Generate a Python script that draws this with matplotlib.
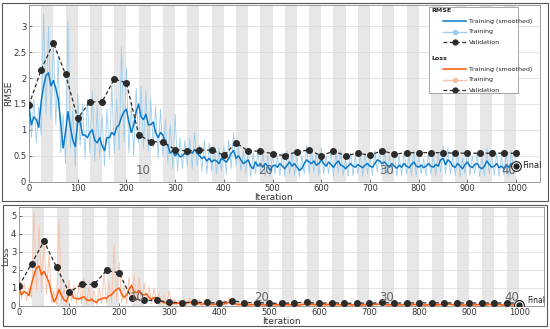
import numpy as np
import matplotlib
matplotlib.use("Agg")
import matplotlib.pyplot as plt
import matplotlib.patches as patches
import matplotlib.transforms as mtransforms

# iterations sampled every 5
iters = np.arange(0, 1001, 5)

rmse_smooth = [
    1.40, 1.10, 1.25, 1.20, 1.05, 1.55, 1.85, 2.05, 2.10, 1.85,
    1.95, 1.80, 1.60, 1.15, 0.65, 0.95, 1.35, 1.05, 0.80, 0.68,
    1.15, 1.15, 0.90, 0.90, 0.85, 0.95, 1.00, 0.80, 0.75, 0.85,
    0.70, 0.60, 0.85, 0.85, 0.95, 0.90, 1.05, 1.10, 1.25, 1.35,
    1.40, 1.15, 0.95, 1.10, 1.35, 1.50, 1.25, 1.20, 1.30, 1.10,
    1.10, 1.15, 0.95, 0.85, 0.95, 0.90, 0.75, 0.70, 0.55, 0.60,
    0.50, 0.55, 0.48, 0.50, 0.55, 0.52, 0.58, 0.55, 0.62, 0.55,
    0.50, 0.45, 0.48, 0.40, 0.45, 0.38, 0.42, 0.40, 0.35, 0.45,
    0.42, 0.38, 0.45, 0.55, 0.60, 0.45, 0.50, 0.42, 0.35, 0.38,
    0.42, 0.30, 0.25, 0.38, 0.30, 0.35, 0.28, 0.35, 0.30, 0.22,
    0.30, 0.32, 0.28, 0.35, 0.30, 0.25, 0.32, 0.38, 0.30, 0.35,
    0.28, 0.22, 0.25, 0.35, 0.42, 0.38, 0.35, 0.40, 0.32, 0.35,
    0.42, 0.35, 0.30, 0.38, 0.33, 0.28, 0.35, 0.40, 0.32, 0.30,
    0.25, 0.30, 0.35, 0.30, 0.28, 0.33, 0.30, 0.27, 0.32, 0.35,
    0.30, 0.28, 0.35, 0.42, 0.40, 0.35, 0.38, 0.32, 0.28, 0.35,
    0.30, 0.26, 0.32, 0.28, 0.35, 0.30, 0.27, 0.33, 0.38, 0.30,
    0.28, 0.32, 0.27, 0.30, 0.35, 0.30, 0.28, 0.33, 0.30, 0.42,
    0.45, 0.33, 0.42, 0.38, 0.30, 0.28, 0.35, 0.30, 0.25, 0.33,
    0.38, 0.30, 0.27, 0.33, 0.35, 0.28, 0.25, 0.30, 0.40, 0.33,
    0.28, 0.30, 0.35, 0.27, 0.30, 0.25, 0.33, 0.28, 0.35, 0.32,
    0.30,
]

rmse_raw = [
    1.95, 0.85, 1.60, 0.75, 1.45, 0.90, 3.25, 1.30, 3.00, 1.20,
    2.70, 1.10, 2.40, 0.55, 1.30, 0.35, 3.10, 0.65, 1.40, 0.30,
    1.70, 0.70, 1.50, 0.45, 1.60, 0.55, 1.75, 0.40, 1.45, 0.45,
    1.30, 0.30, 1.40, 0.45, 1.90, 0.55, 1.60, 0.60, 2.60, 0.75,
    2.20, 0.55, 1.50, 0.50, 1.80, 0.75, 1.85, 0.65, 1.75, 0.60,
    1.60, 0.65, 1.45, 0.45, 1.40, 0.50, 1.20, 0.35, 1.10, 0.25,
    1.30, 0.20, 0.85, 0.25, 0.80, 0.30, 0.85, 0.25, 0.95, 0.30,
    0.70, 0.20, 0.80, 0.15, 0.75, 0.20, 0.70, 0.15, 0.65, 0.20,
    0.70, 0.15, 0.80, 0.25, 0.95, 0.30, 0.70, 0.20, 0.60, 0.15,
    0.65, 0.10, 0.55, 0.15, 0.60, 0.15, 0.55, 0.10, 0.50, 0.10,
    0.55, 0.15, 0.50, 0.12, 0.55, 0.10, 0.60, 0.15, 0.55, 0.12,
    0.50, 0.08, 0.50, 0.15, 0.70, 0.15, 0.60, 0.18, 0.55, 0.12,
    0.65, 0.15, 0.50, 0.15, 0.60, 0.10, 0.55, 0.18, 0.60, 0.12,
    0.45, 0.10, 0.55, 0.12, 0.50, 0.15, 0.55, 0.10, 0.55, 0.15,
    0.50, 0.12, 0.60, 0.18, 0.65, 0.15, 0.60, 0.12, 0.50, 0.15,
    0.55, 0.10, 0.50, 0.12, 0.60, 0.15, 0.50, 0.12, 0.60, 0.10,
    0.50, 0.15, 0.45, 0.12, 0.55, 0.15, 0.50, 0.12, 0.55, 0.18,
    0.70, 0.15, 0.65, 0.15, 0.50, 0.12, 0.55, 0.10, 0.45, 0.15,
    0.60, 0.12, 0.50, 0.15, 0.55, 0.10, 0.45, 0.12, 0.65, 0.15,
    0.50, 0.12, 0.55, 0.10, 0.50, 0.12, 0.55, 0.10, 0.60, 0.15,
    0.40,
]

# validation every 25 iterations
val_iters = np.arange(0, 1001, 25)
rmse_val = [
    1.48, 2.16, 2.68, 2.07, 1.22, 1.54, 1.54, 1.98, 1.91, 0.91,
    0.77, 0.77, 0.62, 0.59, 0.61, 0.61, 0.51, 0.75, 0.59, 0.59,
    0.54, 0.50, 0.58, 0.61, 0.50, 0.59, 0.50, 0.55, 0.51, 0.60,
    0.53, 0.56, 0.56, 0.56, 0.56, 0.55, 0.55, 0.55, 0.55, 0.55,
    0.55,
]
rmse_final = 0.31

# regression loss = half mean squared error
loss_smooth = 0.5 * np.array(rmse_smooth) ** 2
loss_raw = 0.5 * np.array(rmse_raw) ** 2
loss_val = 0.5 * np.array(rmse_val) ** 2
loss_final = 0.5 * rmse_final ** 2

iters_per_epoch = 25
n_epochs = 40
epoch_labels = [10, 20, 30, 40]

blue = '#0a78c8'
blue_light = '#9ccdec'
orange = '#ff5a0a'
orange_light = '#f8c0a6'
val_col = '#2b2b2b'
band_col = '#e6e6e6'
tick_col = '#333333'

fig = plt.figure(figsize=(5.5, 3.29), dpi=100)

# panel frames
fig.patches.append(patches.Rectangle((2 / 550, 1 - 201 / 329), 546 / 550, 198 / 329,
                                     transform=fig.transFigure, fill=False,
                                     edgecolor='#555555', linewidth=0.8))
fig.patches.append(patches.Rectangle((3 / 550, 1 - 326 / 329), 544 / 550, 121 / 329,
                                     transform=fig.transFigure, fill=False,
                                     edgecolor='#555555', linewidth=0.8))

ax1 = fig.add_axes([29 / 550, 1 - 181.7 / 329, 511 / 550, 176.7 / 329])
ax2 = fig.add_axes([19 / 550, 1 - 305.7 / 329, 525 / 550, 98.4 / 329])


def style_axes(ax, ylim, yticks, yticklabels, ylabel, epoch_y, xlab_pos, ylab_x):
    for e in range(2, n_epochs + 1, 2):
        ax.axvspan((e - 1) * iters_per_epoch, e * iters_per_epoch,
                   color=band_col, zorder=0, linewidth=0)
    ax.set_xlim(0, 1049)
    ax.set_ylim(*ylim)
    ax.set_xticks(np.arange(0, 1001, 100))
    ax.set_yticks(yticks)
    ax.set_yticklabels(yticklabels)
    ax.yaxis.grid(True, color='#d9d9d9', linewidth=0.5, zorder=1)
    ax.set_axisbelow(True)
    ax.tick_params(direction='in', length=2, width=0.5, labelsize=6,
                   colors=tick_col, pad=2)
    for s in ax.spines.values():
        s.set_color('#8a8a8a')
        s.set_linewidth(0.6)
    ax.set_xlabel('Iteration', fontsize=6.5, color=tick_col)
    ax.xaxis.set_label_coords(*xlab_pos)
    ax.set_ylabel(ylabel, fontsize=6.5, color=tick_col)
    ax.yaxis.set_label_coords(ylab_x, 0.5)
    trans = mtransforms.blended_transform_factory(ax.transData, ax.transAxes)
    for ep in epoch_labels:
        ax.text(ep * iters_per_epoch, epoch_y, str(ep), transform=trans,
                ha='right', va='bottom', fontsize=8.5, color='#666666', zorder=5)


style_axes(ax1, (0, 3.41), np.arange(0, 3.01, 0.5),
           ['0', '0.5', '1', '1.5', '2', '2.5', '3'], 'RMSE', 0.025,
           (0.478, -0.064), -0.031)
style_axes(ax2, (0, 5.47), np.arange(0, 6), [str(i) for i in range(6)], 'Loss', 0.02,
           (0.50, -0.112), -0.016)

# RMSE panel
ax1.plot(iters, rmse_raw, color=blue_light, linewidth=0.6, zorder=2)
ax1.plot(iters, rmse_smooth, color=blue, linewidth=1.1, zorder=3)
ax1.plot(val_iters, rmse_val, '--o', color=val_col, linewidth=0.9,
         markersize=4, dashes=(3, 2), zorder=4)
ax1.plot([1000], [rmse_final], 'o', markersize=7, markerfacecolor='white',
         markeredgecolor='#222222', markeredgewidth=0.8, zorder=5)
ax1.plot([1000], [rmse_final], 'o', markersize=3.5, color='#222222', zorder=6)
ax1.text(1012, rmse_final, 'Final', fontsize=6, va='center', ha='left', color='#222222')

# Loss panel
ax2.plot(iters, loss_raw, color=orange_light, linewidth=0.6, zorder=2)
ax2.plot(iters, loss_smooth, color=orange, linewidth=1.1, zorder=3)
ax2.plot(val_iters, loss_val, '--o', color=val_col, linewidth=0.9,
         markersize=4, dashes=(3, 2), zorder=4)
ax2.plot([1000], [loss_final], 'o', markersize=7, markerfacecolor='white',
         markeredgecolor='#222222', markeredgewidth=0.8, zorder=5)
ax2.plot([1000], [loss_final], 'o', markersize=3.5, color='#222222', zorder=6)
ax2.text(1015, loss_final + 0.25, 'Final', fontsize=5.5, va='center', ha='left', color='#222222')

# legend box drawn by hand (MATLAB style with group titles)
leg = fig.add_axes([429 / 550, 1 - 93 / 329, 89 / 550, 86 / 329])
leg.set_xlim(0, 89)
leg.set_ylim(86, 0)
leg.set_xticks([])
leg.set_yticks([])
for s in leg.spines.values():
    s.set_color('#9a9a9a')
    s.set_linewidth(0.6)
legend_groups = [
    ('RMSE', 3, blue, blue_light),
    ('Loss', 51, orange, orange_light),
]
for title, y0, c_s, c_r in legend_groups:
    leg.text(2, y0, title, fontsize=4.5, fontweight='bold', va='center', color='#222222')
    rows = [(y0 + 11, 'Training (smoothed)'), (y0 + 22, 'Training'), (y0 + 32, 'Validation')]
    leg.plot([14, 37], [rows[0][0]] * 2, color=c_s, linewidth=1.1)
    leg.plot([14, 37], [rows[1][0]] * 2, color=c_r, linewidth=1.0)
    leg.plot([25.5], [rows[1][0]], 'o', color=c_r, markersize=3)
    leg.plot([14, 37], [rows[2][0]] * 2, color=val_col, linewidth=0.9, dashes=(3, 2))
    leg.plot([25.5], [rows[2][0]], 'o', color=val_col, markersize=3.5)
    for y, label in rows:
        leg.text(40, y, label, fontsize=4.5, va='center', color='#222222')

fig.savefig('out.png', dpi=100)
